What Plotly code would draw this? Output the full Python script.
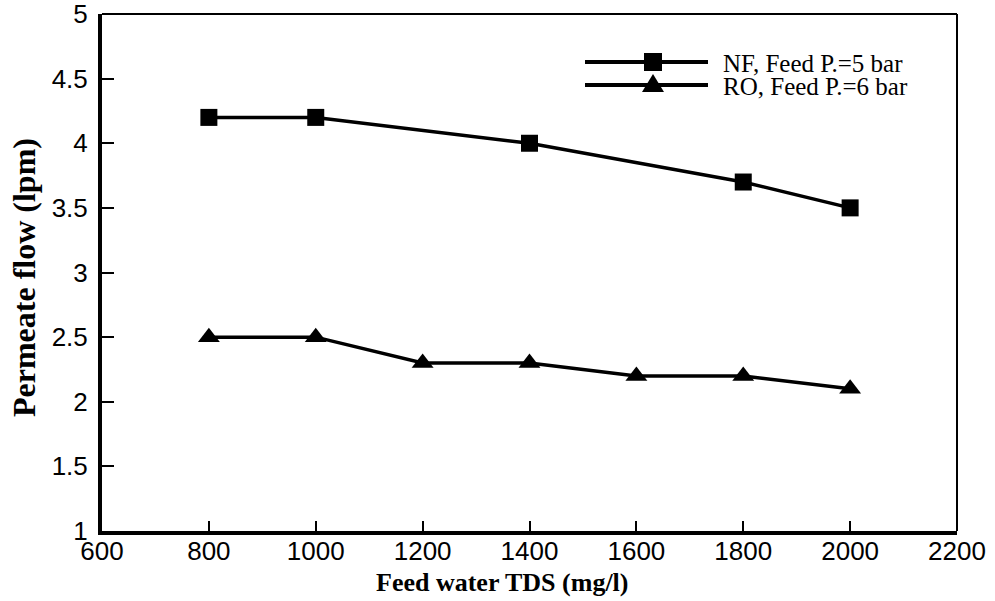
import plotly.graph_objects as go

nf_x = [800, 1000, 1400, 1800, 2000]
nf_y = [4.2, 4.2, 4.0, 3.7, 3.5]
ro_x = [800, 1000, 1200, 1400, 1600, 1800, 2000]
ro_y = [2.5, 2.5, 2.3, 2.3, 2.2, 2.2, 2.1]
names = ["NF, Feed P.=5 bar", "RO, Feed P.=6 bar"]
x_ticks = [600, 800, 1000, 1200, 1400, 1600, 1800, 2000, 2200]
y_ticks = [1, 1.5, 2, 2.5, 3, 3.5, 4, 4.5, 5]
x_title = "Feed water TDS (mg/l)"
y_title = "Permeate flow (lpm)"

W, H = 995, 601
ML, MR, MT, MB = 102, 38, 14, 70
PW, PH = W - ML - MR, H - MT - MB

def px(x):
    return (x - ML) / PW

def py(y):
    return (H - MB - y) / PH

fig = go.Figure()
fig.add_trace(go.Scatter(x=nf_x, y=nf_y, name=names[0], mode="lines+markers",
                         line=dict(color="black", width=3.5),
                         marker=dict(symbol="square", size=17, color="black"),
                         showlegend=False, cliponaxis=False))
fig.add_trace(go.Scatter(x=ro_x, y=ro_y, name=names[1], mode="lines+markers",
                         line=dict(color="black", width=3.5),
                         marker=dict(symbol="triangle-up", size=19, color="black"),
                         showlegend=False, cliponaxis=False))

shapes = [
    dict(type="line", xref="paper", yref="paper", x0=0, x1=1, y0=1, y1=1,
         line=dict(color="black", width=2)),
    dict(type="line", xref="paper", yref="paper", x0=1, x1=1, y0=0, y1=1,
         line=dict(color="black", width=2)),
]
annotations = [
    dict(xref="paper", yref="paper", x=px(502), y=py(582), text=f"<b>{x_title}</b>",
         showarrow=False, xanchor="center", yanchor="middle",
         font=dict(family="Liberation Serif", size=26, color="black")),
    dict(xref="paper", yref="paper", x=px(24), y=py(278), text=f"<b>{y_title}</b>",
         showarrow=False, xanchor="center", yanchor="middle", textangle=-90,
         font=dict(family="Liberation Serif", size=32, color="black")),
]
# custom legend
leg_rows = [62, 85]
for i, row in enumerate(leg_rows):
    shapes.append(dict(type="line", xref="paper", yref="paper",
                       x0=px(585), x1=px(708), y0=py(row), y1=py(row),
                       line=dict(color="black", width=4)))
    annotations.append(dict(xref="paper", yref="paper", x=px(721), y=py(row + 1),
                            text=names[i], showarrow=False, xanchor="left",
                            yanchor="middle",
                            font=dict(family="Liberation Serif", size=25, color="black")))
cx = 653
r = leg_rows[0]
shapes.append(dict(type="rect", xref="paper", yref="paper",
                   x0=px(cx - 9), x1=px(cx + 9), y0=py(r + 9), y1=py(r - 9),
                   fillcolor="black", line=dict(width=0)))
r = leg_rows[1]
shapes.append(dict(type="path", xref="paper", yref="paper",
                   path=f"M {px(cx-11)},{py(r+7)} L {px(cx+11)},{py(r+7)} L {px(cx)},{py(r-11)} Z",
                   fillcolor="black", line=dict(width=0)))

fig.update_layout(
    width=W, height=H,
    margin=dict(l=ML, r=MR, t=MT, b=MB),
    plot_bgcolor="white", paper_bgcolor="white",
    shapes=shapes, annotations=annotations,
    xaxis=dict(range=[600, 2200], tickvals=x_ticks, ticktext=[str(v) for v in x_ticks],
               showgrid=False, zeroline=False, showline=True, linecolor="black",
               linewidth=4, ticks="inside", ticklen=10, tickwidth=2, tickcolor="black",
               automargin=False, ticklabelstandoff=-6, ticklabeloverflow="allow",
               tickfont=dict(family="Liberation Sans", size=26, color="black")),
    yaxis=dict(range=[1, 5], tickvals=y_ticks, ticktext=[f"{v:g}" for v in y_ticks],
               showgrid=False, zeroline=False, showline=True, linecolor="black",
               linewidth=4, ticks="inside", ticklen=12, tickwidth=2, tickcolor="black",
               automargin=False, ticklabelstandoff=5, ticklabeloverflow="allow",
               tickfont=dict(family="Liberation Sans", size=26, color="black")),
)

fig.write_html("out.html")
